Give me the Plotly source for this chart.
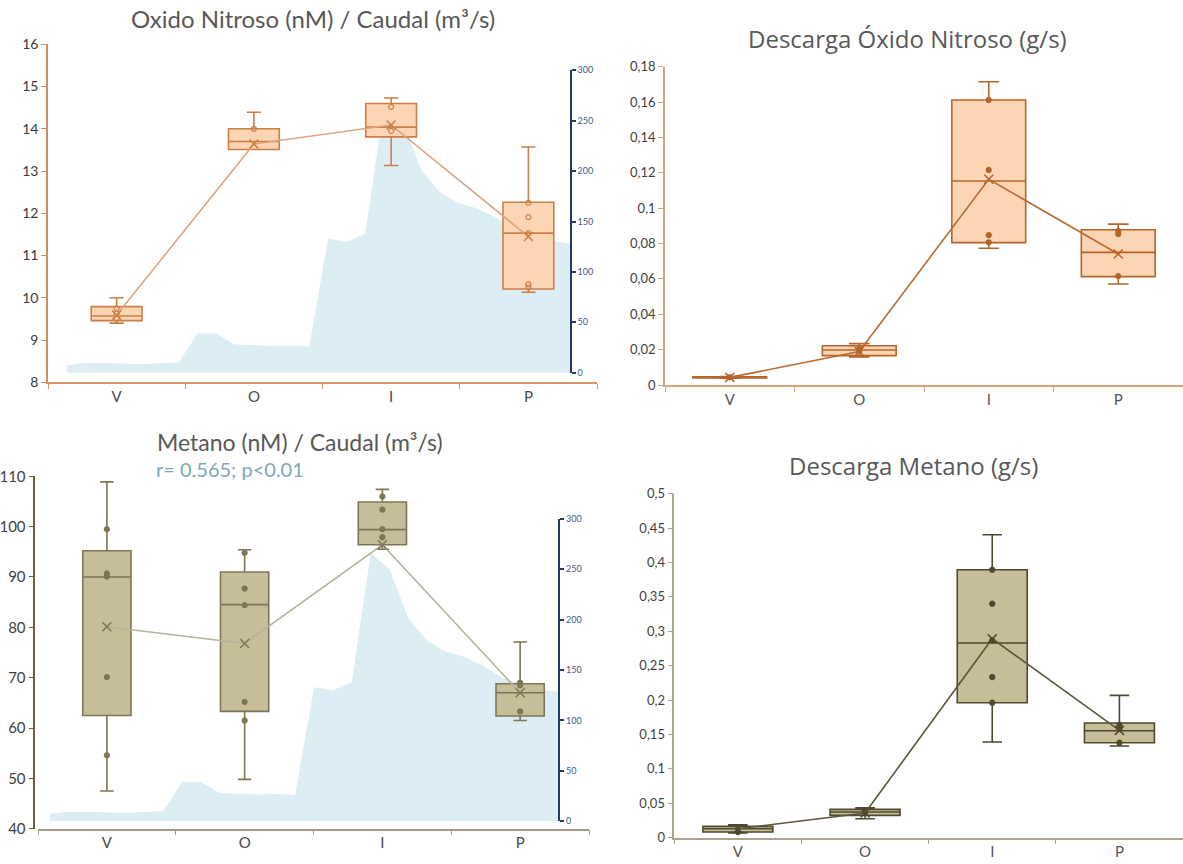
import plotly.graph_objects as go

# ---------------- data ----------------
categories = ["V", "O", "I", "P"]

# Caudal (m3/s) series drawn as background area (same series in both top/bottom-left panels)
caudal = [7.5, 9.5, 9.5, 9.3, 8.5, 9.3, 10, 39, 39, 28, 27.5, 26.5, 27, 26,
          133, 130, 138, 266, 250, 201, 179, 168, 163, 154, 142, 136, 131, 128]
caudal_idx = list(range(len(caudal)))
caudal_ticks = [0, 50, 100, 150, 200, 250, 300]

# Óxido nitroso (nM)
n2o_nm_q1 = [9.46, 13.51, 13.81, 10.21]
n2o_nm_med = [9.57, 13.70, 14.04, 11.53]
n2o_nm_q3 = [9.79, 14.00, 14.60, 12.26]
n2o_nm_lo = [9.40, 13.51, 13.13, 10.13]
n2o_nm_hi = [10.00, 14.39, 14.73, 13.57]
n2o_nm_mean = [9.59, 13.64, 14.09, 11.45]
n2o_nm_pts_x = ["V", "V", "V", "O", "I", "I", "P", "P", "P", "P", "P"]
n2o_nm_pts_y = [9.75, 9.63, 9.51, 14.0, 14.52, 13.95, 12.25, 11.91, 11.53, 10.32, 10.25]
n2o_nm_ticks = [8, 9, 10, 11, 12, 13, 14, 15, 16]

# Descarga óxido nitroso (g/s)
n2o_gs_q1 = [0.0040, 0.0166, 0.0805, 0.0613]
n2o_gs_med = [0.0043, 0.0198, 0.1154, 0.0750]
n2o_gs_q3 = [0.0046, 0.0222, 0.1612, 0.0878]
n2o_gs_lo = [0.0038, 0.0158, 0.0773, 0.0571]
n2o_gs_hi = [0.0048, 0.0234, 0.1715, 0.0910]
n2o_gs_mean = [0.0043, 0.0189, 0.1163, 0.0741]
n2o_gs_pts_x = ["V", "O", "O", "I", "I", "I", "I", "P", "P", "P"]
n2o_gs_pts_y = [0.0043, 0.0207, 0.0189, 0.1612, 0.1216, 0.0848, 0.0807, 0.0871, 0.0854, 0.0616]
n2o_gs_ticks = [0, 0.02, 0.04, 0.06, 0.08, 0.1, 0.12, 0.14, 0.16, 0.18]
n2o_gs_ticktext = ["0", "0,02", "0,04", "0,06", "0,08", "0,1", "0,12", "0,14", "0,16", "0,18"]

# Metano (nM)
ch4_nm_q1 = [62.5, 63.3, 96.4, 62.4]
ch4_nm_med = [90.0, 84.5, 99.4, 67.0]
ch4_nm_q3 = [95.2, 91.0, 104.9, 68.8]
ch4_nm_lo = [47.5, 49.8, 95.5, 61.5]
ch4_nm_hi = [108.9, 95.4, 107.4, 77.1]
ch4_nm_mean = [80.1, 76.8, 96.4, 67.0]
ch4_nm_pts_x = ["V"] * 5 + ["O"] * 5 + ["I"] * 4 + ["P"] * 3
ch4_nm_pts_y = [99.5, 90.7, 90.1, 70.1, 54.6,
                94.8, 87.7, 84.4, 65.2, 61.5,
                106.0, 103.4, 99.5, 97.9,
                69.0, 68.5, 63.3]
ch4_nm_ticks = [40, 50, 60, 70, 80, 90, 100, 110]

# Descarga metano (g/s)
ch4_gs_q1 = [0.0082, 0.0325, 0.1962, 0.1381]
ch4_gs_med = [0.0131, 0.0373, 0.2830, 0.1555]
ch4_gs_q3 = [0.0165, 0.0412, 0.3895, 0.1667]
ch4_gs_lo = [0.0068, 0.0276, 0.1391, 0.1332]
ch4_gs_hi = [0.0189, 0.0436, 0.4404, 0.2069]
ch4_gs_mean = [0.0130, 0.0359, 0.2892, 0.1560]
ch4_gs_pts_x = ["V", "O", "I", "I", "I", "I", "I", "P", "P", "P"]
ch4_gs_pts_y = [0.0082, 0.0360, 0.3895, 0.3401, 0.2868, 0.2335, 0.1962, 0.1642, 0.1584, 0.1381]
ch4_gs_ticks = [0, 0.05, 0.1, 0.15, 0.2, 0.25, 0.3, 0.35, 0.4, 0.45, 0.5]
ch4_gs_ticktext = ["0", "0,05", "0,1", "0,15", "0,2", "0,25", "0,3", "0,35", "0,4", "0,45", "0,5"]

# ---------------- styling ----------------
FONT = "Lato"
AREA = "#DCEEF4"
NAVY = "#1F3B66"

fig = go.Figure()

# background caudal areas (lowest subplots -> drawn underneath)
for ax in ["", "2"]:
    fig.add_trace(go.Scatter(x=caudal_idx, y=caudal, mode="lines", fill="tozeroy",
                             fillcolor=AREA, line=dict(width=0, color=AREA),
                             xaxis="x" + ax, yaxis="y" + ax, hoverinfo="skip",
                             showlegend=False))


def add_panel(ax, q1, med, q3, lo, hi, mean, px, py, width, fill, edge, meancol,
              ptsym, ptsize):
    fig.add_trace(go.Box(x=categories, q1=q1, median=med, q3=q3, lowerfence=lo,
                         upperfence=hi, boxpoints=False, width=width, whiskerwidth=0.28,
                         fillcolor=fill, line=dict(color=edge, width=1.6),
                         xaxis="x" + ax, yaxis="y" + ax, hoverinfo="skip",
                         showlegend=False))
    fig.add_trace(go.Scatter(x=px, y=py, mode="markers",
                             marker=dict(symbol=ptsym, size=ptsize, color=edge,
                                         line=dict(width=1.2, color=edge)),
                             xaxis="x" + ax, yaxis="y" + ax, hoverinfo="skip",
                             showlegend=False))
    fig.add_trace(go.Scatter(x=categories, y=mean, mode="lines+markers",
                             line=dict(color=meancol, width=1.6),
                             marker=dict(symbol="x-thin", size=9,
                                         line=dict(width=1.5, color=edge)),
                             xaxis="x" + ax, yaxis="y" + ax, hoverinfo="skip",
                             showlegend=False))


add_panel("3", n2o_nm_q1, n2o_nm_med, n2o_nm_q3, n2o_nm_lo, n2o_nm_hi, n2o_nm_mean,
          n2o_nm_pts_x, n2o_nm_pts_y, 0.37, "#FCD5B5", "#CC7F45", "#DDA57E",
          "circle-open", 5)
add_panel("4", n2o_gs_q1, n2o_gs_med, n2o_gs_q3, n2o_gs_lo, n2o_gs_hi, n2o_gs_mean,
          n2o_gs_pts_x, n2o_gs_pts_y, 0.57, "#FCD5B5", "#B5652A", "#B86B32",
          "circle", 5)
add_panel("5", ch4_nm_q1, ch4_nm_med, ch4_nm_q3, ch4_nm_lo, ch4_nm_hi, ch4_nm_mean,
          ch4_nm_pts_x, ch4_nm_pts_y, 0.35, "#C6BE98", "#7D7556", "#B7B29C",
          "circle", 5)
add_panel("6", ch4_gs_q1, ch4_gs_med, ch4_gs_q3, ch4_gs_lo, ch4_gs_hi, ch4_gs_mean,
          ch4_gs_pts_x, ch4_gs_pts_y, 0.55, "#C6BE98", "#4F4830", "#5E573C",
          "circle", 5)

W, H = 1183, 864


def px_x(v):
    return v / W


def px_y(top, bottom):
    return [1 - bottom / H, 1 - top / H]


def cat_axis(dom, anchor, color, tfsize, tfcolor):
    return dict(domain=dom, anchor=anchor, type="category", categoryorder="array",
                categoryarray=categories, range=[-0.5, 3.5], showline=True,
                linecolor=color, linewidth=1.5, ticks="outside", tickson="boundaries",
                ticklen=5, tickcolor=color, tickwidth=1.2, showgrid=False,
                zeroline=False, automargin=False,
                tickfont=dict(family=FONT, size=tfsize, color=tfcolor))


def val_axis(dom, anchor, rng, tv, tt, color, tfsize, tfcolor, **kw):
    d = dict(domain=dom, anchor=anchor, range=rng, tickmode="array", tickvals=tv,
             ticktext=tt, showline=True, linecolor=color, linewidth=1.5,
             ticks="outside", ticklen=5, tickcolor=color, tickwidth=1.2,
             showgrid=False, zeroline=False, automargin=False,
             tickfont=dict(family=FONT, size=tfsize, color=tfcolor))
    d.update(kw)
    return d


def caudal_axis(dom, pos):
    return dict(domain=dom, anchor="free", position=pos, side="right", range=[0, 300],
                tickmode="array", tickvals=caudal_ticks,
                ticktext=[str(t) for t in caudal_ticks], showline=True,
                linecolor=NAVY, linewidth=2, ticks="outside", ticklen=4,
                tickcolor=NAVY, tickwidth=1.5, showgrid=False, zeroline=False,
                automargin=False,
                tickfont=dict(family=FONT, size=9, color="#3A5A8A"))


fig.update_layout(
    width=W, height=H, margin=dict(l=0, r=0, t=0, b=0, autoexpand=False),
    paper_bgcolor="white", plot_bgcolor="rgba(0,0,0,0)",
    showlegend=False,
    # caudal area panels
    xaxis=dict(domain=[px_x(66.7), px_x(570.7)], range=[0, 27], visible=False,
               anchor="y", automargin=False),
    yaxis=caudal_axis(px_y(70.3, 372.7), px_x(570.7)),
    xaxis2=dict(domain=[px_x(50), px_x(559.3)], range=[0, 27], visible=False,
                anchor="y2", automargin=False),
    yaxis2=caudal_axis(px_y(518.7, 821.3), px_x(559.3)),
    # top-left
    xaxis3=cat_axis([px_x(48), px_x(597)], "y3", "#D4956A", 15, "#4A4A4A"),
    yaxis3=val_axis(px_y(44.3, 382.3), "x3", [8, 16], n2o_nm_ticks,
                    [str(t) for t in n2o_nm_ticks], "#D08E5E", 14, "#3A3A3A"),
    # top-right
    xaxis4=cat_axis([px_x(665), px_x(1183)], "y4", "#D6A47E", 15, "#555555"),
    yaxis4=val_axis(px_y(66.7, 385), "x4", [0, 0.18], n2o_gs_ticks, n2o_gs_ticktext,
                    "#D6A47E", 13, "#3F3F3F"),
    # bottom-left
    xaxis5=cat_axis([px_x(38), px_x(589)], "y5", "#A39D85", 15, "#4A4A4A"),
    yaxis5=val_axis(px_y(476.3, 828.7), "free", [40, 110], ch4_nm_ticks,
                    [str(t) for t in ch4_nm_ticks], "#6B5F38", 15, "#3F3F3F",
                    position=px_x(34.3)),
    # bottom-right
    xaxis6=cat_axis([px_x(674.3), px_x(1183)], "y6", "#ABA58F", 15, "#555555"),
    yaxis6=val_axis(px_y(493.7, 837.7), "x6", [0, 0.5], ch4_gs_ticks, ch4_gs_ticktext,
                    "#ABA58F", 13, "#3F3F3F"),
)

titles = [
    ("Oxido Nitroso (nM) / Caudal (m³/s)", 312.5, 18.3, "Lato", 24),
    ("Descarga Óxido Nitroso (g/s)", 907.5, 38.3, "Open Sans", 24),
    ("Metano (nM) / Caudal (m³/s)", 300, 442, "Lato", 23),
    ("Descarga Metano (g/s)", 913.3, 465.3, "Open Sans", 24),
]
for text, cx, cy, fam, sz in titles:
    fig.add_annotation(text=text, xref="paper", yref="paper", x=cx / W, y=1 - cy / H,
                       xanchor="center", yanchor="middle", showarrow=False,
                       font=dict(family=fam, size=sz, color="#585858"))
fig.add_annotation(text="r= 0.565; p<0.01", xref="paper", yref="paper", x=154 / W,
                   y=1 - 469 / H, xanchor="left", yanchor="middle", showarrow=False,
                   font=dict(family=FONT, size=20, color="#7FA6BD"))

fig.write_html("out.html", config={"displayModeBar": False},
               post_script="document.body.style.margin='0';"
                           "document.body.style.overflow='hidden';")
